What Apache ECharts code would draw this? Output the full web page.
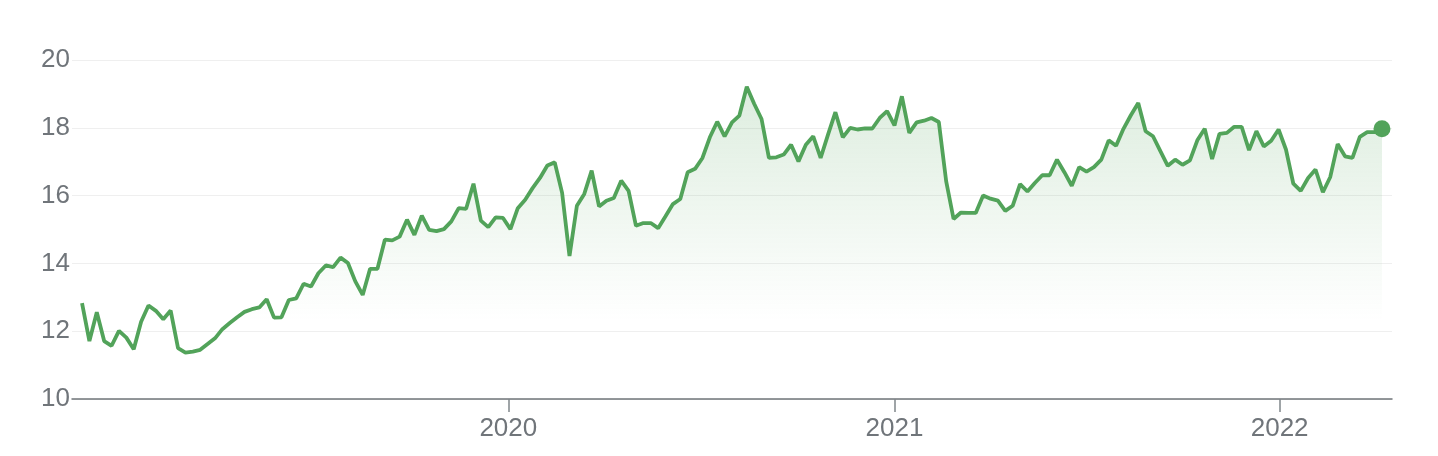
<!DOCTYPE html>
<html>
<head>
<meta charset="utf-8">
<script src="https://cdn.jsdelivr.net/npm/echarts@6/dist/echarts.min.js"></script>
<style>
  html, body { margin: 0; padding: 0; background: #fff; }
  #chart { width: 1438px; height: 456px; }
</style>
</head>
<body>
<div id="chart"></div>
<script>
// weekly closes, first week ending 2018-11-23
const firstWeek = '2018-11-23'
const closes = [
  12.83, 11.71, 12.56, 11.71, 11.57, 12.01, 11.81, 11.47, 12.28, 12.76,
  12.60, 12.35, 12.61, 11.50, 11.37, 11.40, 11.45, 11.62, 11.79, 12.06,
  12.24, 12.41, 12.57, 12.65, 12.70, 12.94, 12.40, 12.41, 12.92, 12.97,
  13.40, 13.32, 13.71, 13.94, 13.89, 14.17, 14.01, 13.47, 13.07, 13.84,
  13.84, 14.70, 14.68, 14.79, 15.29, 14.84, 15.41, 14.99, 14.95, 15.01,
  15.24, 15.63, 15.61, 16.35, 15.26, 15.07, 15.36, 15.34, 15.01, 15.63,
  15.88, 16.22, 16.52, 16.89, 16.98, 16.08, 14.22, 15.70, 16.05, 16.74,
  15.68, 15.85, 15.93, 16.44, 16.14, 15.11, 15.19, 15.19, 15.04, 15.39,
  15.75, 15.90, 16.69, 16.79, 17.11, 17.72, 18.18, 17.75, 18.16, 18.36,
  19.21, 18.71, 18.26, 17.11, 17.13, 17.21, 17.50, 17.01, 17.50, 17.75,
  17.11, 17.80, 18.46, 17.72, 18.00, 17.95, 17.98, 17.98, 18.29, 18.49,
  18.07, 18.93, 17.85, 18.16, 18.21, 18.29, 18.17, 16.42, 15.31, 15.50,
  15.49, 15.49, 16.00, 15.91, 15.85, 15.55, 15.70, 16.34, 16.12, 16.37,
  16.60, 16.60, 17.06, 16.69, 16.29, 16.84, 16.71, 16.84, 17.06, 17.63,
  17.47, 17.97, 18.37, 18.73, 17.90, 17.75, 17.31, 16.88, 17.06, 16.91,
  17.04, 17.63, 17.97, 17.08, 17.82, 17.85, 18.03, 18.03, 17.34, 17.90,
  17.45, 17.62, 17.95, 17.36, 16.35, 16.14, 16.52, 16.77, 16.10, 16.55,
  17.52, 17.16, 17.11, 17.73, 17.87, 17.87, 17.97
]
const yearTicks = ['2020-01-01', '2021-01-01', '2022-01-01']
const axisStart = '2018-11-13T12:00:00Z'
const axisEnd = '2022-04-17T12:00:00Z'

const DAY = 24 * 3600 * 1000
const t0 = Date.parse(firstWeek)
const points = closes.map((v, i) => [t0 + i * 7 * DAY, v])
const lastPoint = points[points.length - 1]
const yearStamps = yearTicks.map(d => Date.parse(d))

const green = '#52a35a'
const labelColor = '#70757a'
const font = "'Liberation Sans', Arial, sans-serif"

const chart = echarts.init(document.getElementById('chart'), null, { renderer: 'canvas' })

chart.setOption({
  animation: false,
  grid: {
    left: 72,
    right: 46,
    top: 60,
    bottom: 57
  },
  xAxis: {
    // timestamps on a value axis so the year ticks can be placed exactly
    type: 'value',
    min: Date.parse(axisStart),
    max: Date.parse(axisEnd),
    axisLine: {
      lineStyle: { color: '#70757a', width: 1.5 }
    },
    axisTick: {
      customValues: yearStamps,
      length: 13,
      lineStyle: { color: '#80868b', width: 1.5 }
    },
    axisLabel: {
      customValues: yearStamps,
      formatter: v => String(new Date(v).getUTCFullYear()),
      color: labelColor,
      fontFamily: font,
      fontSize: 26,
      margin: 17
    },
    splitLine: { show: false }
  },
  yAxis: {
    type: 'value',
    min: 10,
    max: 20,
    interval: 2,
    axisLine: { show: false },
    axisTick: { show: false },
    axisLabel: {
      color: labelColor,
      fontFamily: font,
      fontSize: 26,
      margin: 2
    },
    splitLine: {
      lineStyle: { color: '#efefef', width: 1 }
    }
  },
  series: [
    {
      type: 'line',
      data: points,
      showSymbol: false,
      lineStyle: { color: green, width: 3.8 },
      areaStyle: {
        color: new echarts.graphic.LinearGradient(0, 0, 0, 1, [
          { offset: 0, color: 'rgba(82, 163, 90, 0.28)' },
          { offset: 0.75, color: 'rgba(82, 163, 90, 0)' }
        ])
      },
      z: 2
    },
    {
      type: 'scatter',
      data: [lastPoint],
      symbol: 'circle',
      symbolSize: 17,
      itemStyle: { color: green, opacity: 1 },
      z: 3
    }
  ]
})

window.addEventListener('resize', () => {
  chart.resize()
})
</script>
</body>
</html>
